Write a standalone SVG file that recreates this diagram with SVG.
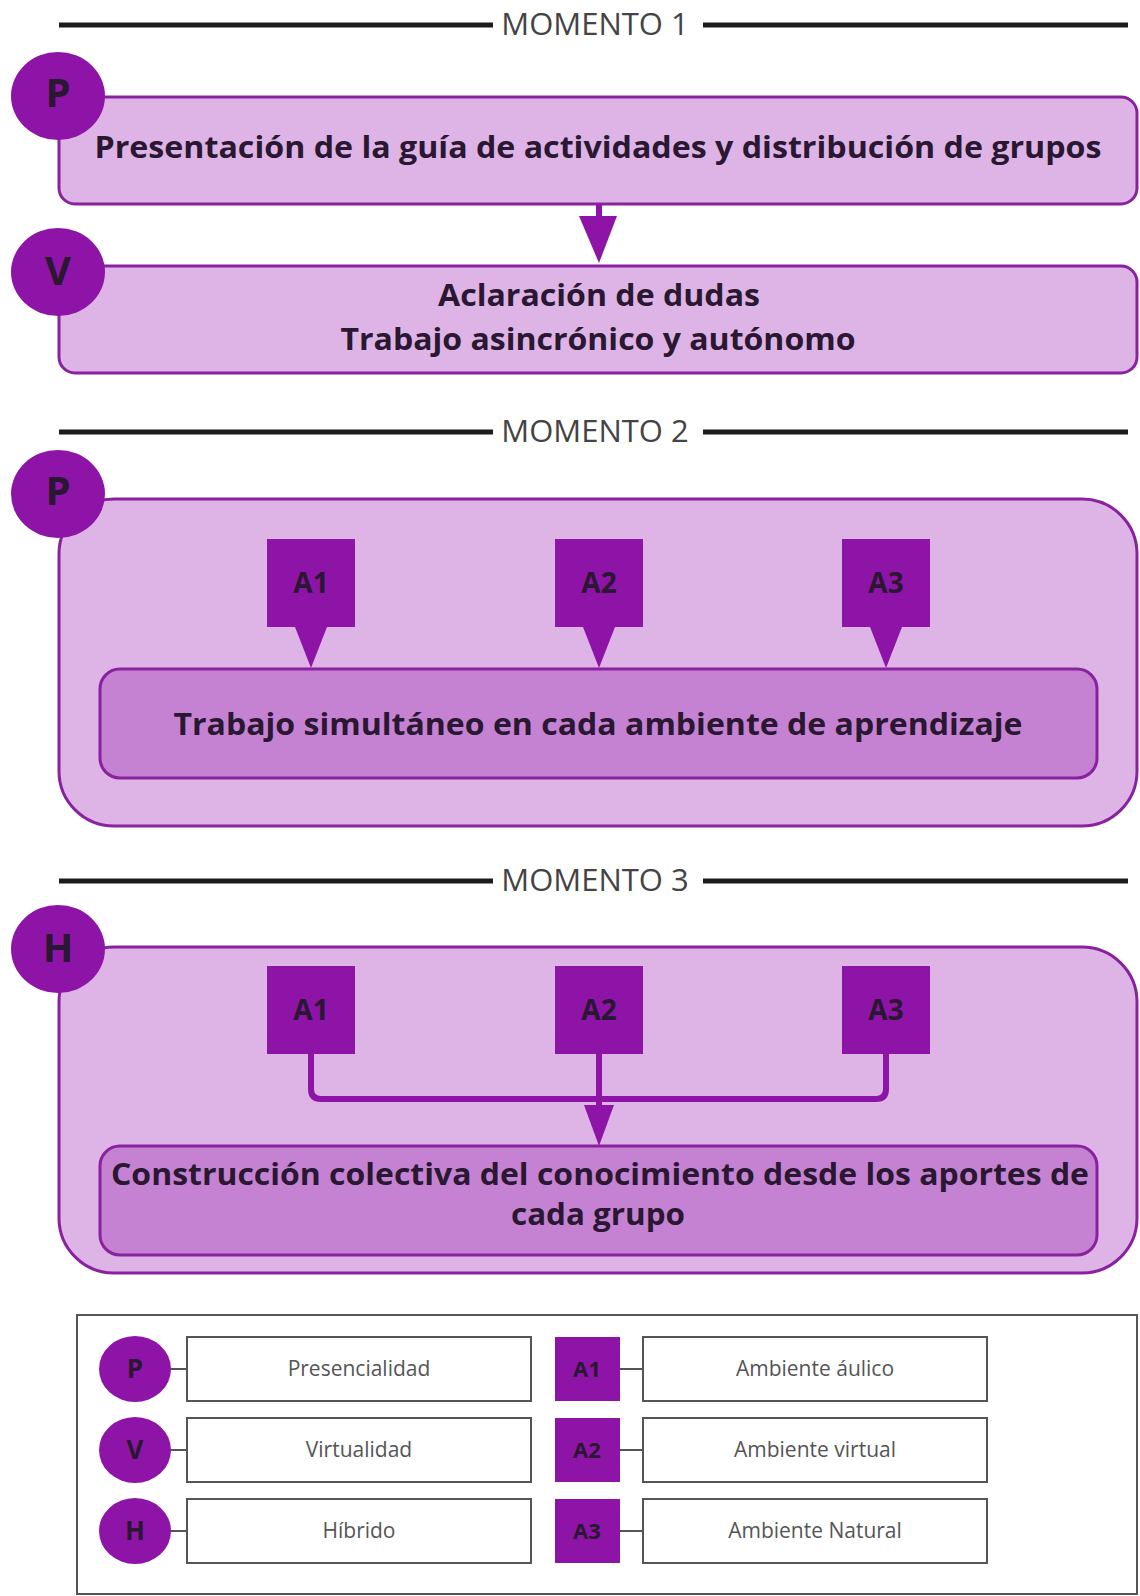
<svg xmlns="http://www.w3.org/2000/svg" width="1140" height="1596" viewBox="0 0 1140 1596">
<style>
.bg{fill:#ffffff}
.rule{stroke:#1c1c1c;stroke-width:5;fill:none}
.mom{font-family:"Open Sans","Liberation Sans",sans-serif;font-size:31px;fill:#444444;text-anchor:middle}
.box{fill:#ddb4e5;stroke:#8a22a0;stroke-width:3}
.inner{fill:#c582d3;stroke:#8a22a0;stroke-width:3}
.circ{fill:#8e14a8}
.sq{fill:#8e14a8}
.t{font-family:"Open Sans","Liberation Sans",sans-serif;font-weight:700;font-size:31px;fill:#2a1731;text-anchor:middle}
.cl{font-family:"Open Sans","Liberation Sans",sans-serif;font-weight:700;font-size:40px;fill:#2a1731;text-anchor:middle}
.al{font-family:"Open Sans","Liberation Sans",sans-serif;font-weight:700;font-size:28px;fill:#2a1731;text-anchor:middle}
.conn{stroke:#8e14a8;stroke-width:6;fill:none}
.head{fill:#8e14a8}
.lg{fill:#ffffff;stroke:#555555;stroke-width:2}
.lgt{font-family:"Open Sans","Liberation Sans",sans-serif;font-size:21px;fill:#555555;text-anchor:middle}
.lgc{font-family:"Open Sans","Liberation Sans",sans-serif;font-weight:700;font-size:26px;fill:#2a1731;text-anchor:middle}
.lga{font-family:"Open Sans","Liberation Sans",sans-serif;font-weight:700;font-size:22px;fill:#2a1731;text-anchor:middle}
.dash{stroke:#555555;stroke-width:2}
</style>
<rect class="bg" x="0" y="0" width="1140" height="1596"/>

<g id="momento1">
<line class="rule" x1="59" y1="25" x2="493" y2="25"/>
<text class="mom" x="595" y="35">MOMENTO 1</text>
<line class="rule" x1="703" y1="25" x2="1128" y2="25"/>
</g>

<g id="node-presentacion">
<rect class="box" x="59" y="97" width="1078" height="107" rx="16"/>
<text class="t" x="598" y="158" textLength="1007" lengthAdjust="spacingAndGlyphs">Presentación de la guía de actividades y distribución de grupos</text>
</g>
<g id="badge-p1">
<ellipse class="circ" cx="58" cy="96" rx="47" ry="44"/>
<text class="cl" x="58" y="107">P</text>
</g>

<g id="node-aclaracion">
<rect class="box" x="59" y="266" width="1078" height="107" rx="16"/>
<text class="t" x="599" y="306" textLength="322" lengthAdjust="spacingAndGlyphs">Aclaración de dudas</text>
<text class="t" x="598" y="350" textLength="515" lengthAdjust="spacingAndGlyphs">Trabajo asincrónico y autónomo</text>
</g>
<g id="badge-v">
<ellipse class="circ" cx="58" cy="272" rx="47" ry="44"/>
<text class="cl" x="58" y="285">V</text>
</g>

<g id="momento2">
<line class="rule" x1="59" y1="432" x2="493" y2="432"/>
<text class="mom" x="595" y="442">MOMENTO 2</text>
<line class="rule" x1="703" y1="432" x2="1128" y2="432"/>
</g>

<g id="group-m2">
<rect class="box" x="59" y="499" width="1078" height="327" rx="55"/>
</g>
<g id="badge-p2">
<ellipse class="circ" cx="58" cy="494" rx="47" ry="44"/>
<text class="cl" x="58" y="505">P</text>
</g>
<g id="node-trabajo-simultaneo">
<rect class="inner" x="100" y="669" width="997" height="109" rx="20"/>
<text class="t" x="598" y="735" textLength="849" lengthAdjust="spacingAndGlyphs">Trabajo simultáneo en cada ambiente de aprendizaje</text>
</g>
<g id="callout-a1-m2">
<path class="sq" d="M267,539 H355 V627 H327 L311,668 L295,627 H267 Z"/>
<text class="al" x="311" y="593">A1</text>
</g>
<g id="callout-a2-m2">
<path class="sq" d="M555,539 H643 V627 H615 L599,668 L583,627 H555 Z"/>
<text class="al" x="599" y="593">A2</text>
</g>
<g id="callout-a3-m2">
<path class="sq" d="M842,539 H930 V627 H902 L886,668 L870,627 H842 Z"/>
<text class="al" x="886" y="593">A3</text>
</g>

<g id="momento3">
<line class="rule" x1="59" y1="881" x2="493" y2="881"/>
<text class="mom" x="595" y="891">MOMENTO 3</text>
<line class="rule" x1="703" y1="881" x2="1128" y2="881"/>
</g>

<g id="group-m3">
<rect class="box" x="59" y="947" width="1078" height="326" rx="55"/>
</g>
<g id="badge-h">
<ellipse class="circ" cx="58" cy="949" rx="47" ry="44"/>
<text class="cl" x="58" y="962">H</text>
</g>
<g id="node-a1-m3">
<rect class="sq" x="267" y="966" width="88" height="88"/>
<text class="al" x="311" y="1020">A1</text>
</g>
<g id="node-a2-m3">
<rect class="sq" x="555" y="966" width="88" height="88"/>
<text class="al" x="599" y="1020">A2</text>
</g>
<g id="node-a3-m3">
<rect class="sq" x="842" y="966" width="88" height="88"/>
<text class="al" x="886" y="1020">A3</text>
</g>
<g id="node-construccion">
<rect class="inner" x="100" y="1146" width="997" height="109" rx="20"/>
<text class="t" x="600" y="1185" textLength="978" lengthAdjust="spacingAndGlyphs">Construcción colectiva del conocimiento desde los aportes de</text>
<text class="t" x="598" y="1225" textLength="174" lengthAdjust="spacingAndGlyphs">cada grupo</text>
</g>

<g id="connectors">
<line class="conn" x1="599" y1="204" x2="599" y2="222" stroke-width="9"/>
<polygon class="head" points="579,216 617,216 599,263"/>
<path class="conn" d="M311,1054 V1089 Q311,1099 321,1099 H876 Q886,1099 886,1089 V1054"/>
<line class="conn" x1="599" y1="1054" x2="599" y2="1110"/>
<polygon class="head" points="584,1105 614,1105 599,1146"/>
</g>

<g id="legend">
<rect class="lg" x="77" y="1315" width="1060" height="279"/>
<g id="legend-p">
<ellipse class="circ" cx="135" cy="1369" rx="36" ry="33"/>
<text class="lgc" x="135" y="1378">P</text>
<line class="dash" x1="171" y1="1369" x2="187" y2="1369"/>
<rect class="lg" x="187" y="1337" width="344" height="64"/>
<text class="lgt" x="359" y="1376">Presencialidad</text>
</g>
<g id="legend-v">
<ellipse class="circ" cx="135" cy="1450" rx="36" ry="33"/>
<text class="lgc" x="135" y="1459">V</text>
<line class="dash" x1="171" y1="1450" x2="187" y2="1450"/>
<rect class="lg" x="187" y="1418" width="344" height="64"/>
<text class="lgt" x="359" y="1457">Virtualidad</text>
</g>
<g id="legend-h">
<ellipse class="circ" cx="135" cy="1531" rx="36" ry="33"/>
<text class="lgc" x="135" y="1540">H</text>
<line class="dash" x1="171" y1="1531" x2="187" y2="1531"/>
<rect class="lg" x="187" y="1499" width="344" height="64"/>
<text class="lgt" x="359" y="1538">Híbrido</text>
</g>
<g id="legend-a1">
<rect class="sq" x="555" y="1337" width="65" height="64"/>
<text class="lga" x="587" y="1377">A1</text>
<line class="dash" x1="620" y1="1369" x2="643" y2="1369"/>
<rect class="lg" x="643" y="1337" width="344" height="64"/>
<text class="lgt" x="815" y="1376">Ambiente áulico</text>
</g>
<g id="legend-a2">
<rect class="sq" x="555" y="1418" width="65" height="64"/>
<text class="lga" x="587" y="1458">A2</text>
<line class="dash" x1="620" y1="1450" x2="643" y2="1450"/>
<rect class="lg" x="643" y="1418" width="344" height="64"/>
<text class="lgt" x="815" y="1457">Ambiente virtual</text>
</g>
<g id="legend-a3">
<rect class="sq" x="555" y="1499" width="65" height="64"/>
<text class="lga" x="587" y="1539">A3</text>
<line class="dash" x1="620" y1="1531" x2="643" y2="1531"/>
<rect class="lg" x="643" y="1499" width="344" height="64"/>
<text class="lgt" x="815" y="1538">Ambiente Natural</text>
</g>
</g>
</svg>
